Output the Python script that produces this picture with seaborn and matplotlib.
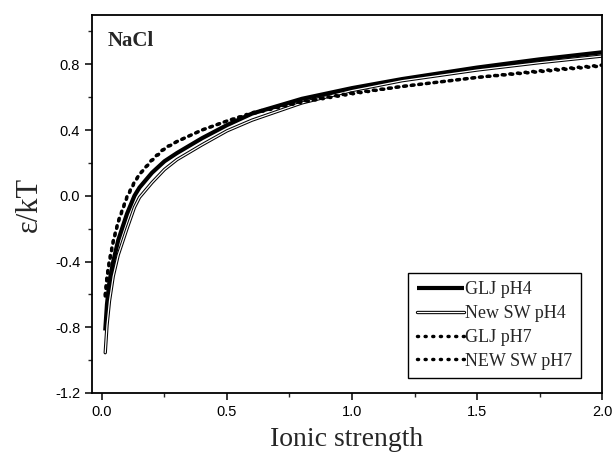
import matplotlib
matplotlib.use("Agg")
import matplotlib.pyplot as plt
import matplotlib.patheffects as pe
from matplotlib.ticker import MultipleLocator
import seaborn as sns
import pandas as pd

ionic = [0.013, 0.02, 0.03, 0.045, 0.065, 0.1, 0.13, 0.15, 0.2, 0.25, 0.3,
         0.4, 0.5, 0.6, 0.8, 1.0, 1.2, 1.5, 1.75, 2.0]
glj_ph4 = [-0.82, -0.66, -0.52, -0.40, -0.27, -0.11, 0.0, 0.05, 0.14, 0.21, 0.26,
           0.35, 0.43, 0.50, 0.59, 0.655, 0.71, 0.78, 0.83, 0.873]
newsw_ph4 = [-0.955, -0.79, -0.64, -0.49, -0.36, -0.20, -0.07, -0.01, 0.08, 0.16, 0.22,
             0.31, 0.395, 0.46, 0.565, 0.64, 0.70, 0.765, 0.81, 0.85]
glj_ph7 = [-0.61, -0.50, -0.40, -0.28, -0.16, -0.01, 0.08, 0.13, 0.22, 0.29, 0.33,
           0.40, 0.455, 0.505, 0.575, 0.625, 0.665, 0.72, 0.76, 0.795]
newsw_ph7 = [-0.60, -0.49, -0.39, -0.275, -0.155, -0.005, 0.085, 0.13, 0.215, 0.285, 0.33,
             0.40, 0.455, 0.50, 0.57, 0.62, 0.665, 0.72, 0.755, 0.79]
labels = ["GLJ pH4", "New SW pH4", "GLJ pH7", "NEW SW pH7"]

sns.set_style("ticks")
plt.rcParams["font.family"] = ["Liberation Sans", "DejaVu Sans"]
serif = ["Liberation Serif", "DejaVu Serif"]

fig = plt.figure(figsize=(6.14, 4.54), dpi=100)
ax = fig.add_axes([0.1498, 0.1344, 0.8307, 0.8326])

df = pd.DataFrame({"I": ionic, labels[0]: glj_ph4, labels[1]: newsw_ph4,
                   labels[2]: glj_ph7, labels[3]: newsw_ph7})

sns.lineplot(data=df, x="I", y=labels[0], ax=ax, color="black", linewidth=3.0,
             label=labels[0], solid_capstyle="butt")
sns.lineplot(data=df, x="I", y=labels[1], ax=ax, color="white", linewidth=0.9,
             label=labels[1],
             path_effects=[pe.Stroke(linewidth=2.4, foreground="black"), pe.Normal()])
sns.lineplot(data=df, x="I", y=labels[2], ax=ax, color="black", linewidth=2.5,
             linestyle=(0, (0.3, 1.9)), dash_capstyle="round", label=labels[2])
sns.lineplot(data=df, x="I", y=labels[3], ax=ax, color="black", linewidth=2.5,
             linestyle=(0, (0.3, 1.9)), dash_capstyle="round", label=labels[3])

ax.set_xlim(-0.04, 2.0)
ax.set_ylim(-1.2, 1.1)
ax.xaxis.set_major_locator(MultipleLocator(0.5))
ax.xaxis.set_minor_locator(MultipleLocator(0.25))
ax.yaxis.set_major_locator(MultipleLocator(0.4))
ax.yaxis.set_minor_locator(MultipleLocator(0.2))
ax.xaxis.set_major_formatter(matplotlib.ticker.FormatStrFormatter("%.1f"))
ax.yaxis.set_major_formatter(matplotlib.ticker.FormatStrFormatter("%.1f"))
ax.tick_params(which="major", direction="out", length=5, width=1.1, labelsize=10.5,
               colors="black", top=False, right=False)
ax.tick_params(which="minor", direction="out", length=3, width=1.0,
               top=False, right=False)
for s in ax.spines.values():
    s.set_visible(True)
    s.set_linewidth(1.3)
    s.set_color("black")

ax.set_xlabel("Ionic strength", fontsize=20, family=serif, labelpad=6)
ax.set_ylabel("ε/kT", fontsize=22, family=serif, labelpad=8)

ax.text(0.03, 0.93, "NaCl", transform=ax.transAxes, fontsize=15,
        fontweight="bold", family=serif, va="center", ha="left")

leg = ax.legend(loc="lower right", bbox_to_anchor=(0.958, 0.04), frameon=True,
                fancybox=False, edgecolor="black", framealpha=1,
                prop={"family": serif, "size": 13}, handlelength=2.6,
                handletextpad=0.1, labelspacing=0.38, borderpad=0.45,
                borderaxespad=0)
leg.get_frame().set_linewidth(1.0)

fig.savefig("out.png", dpi=100)
